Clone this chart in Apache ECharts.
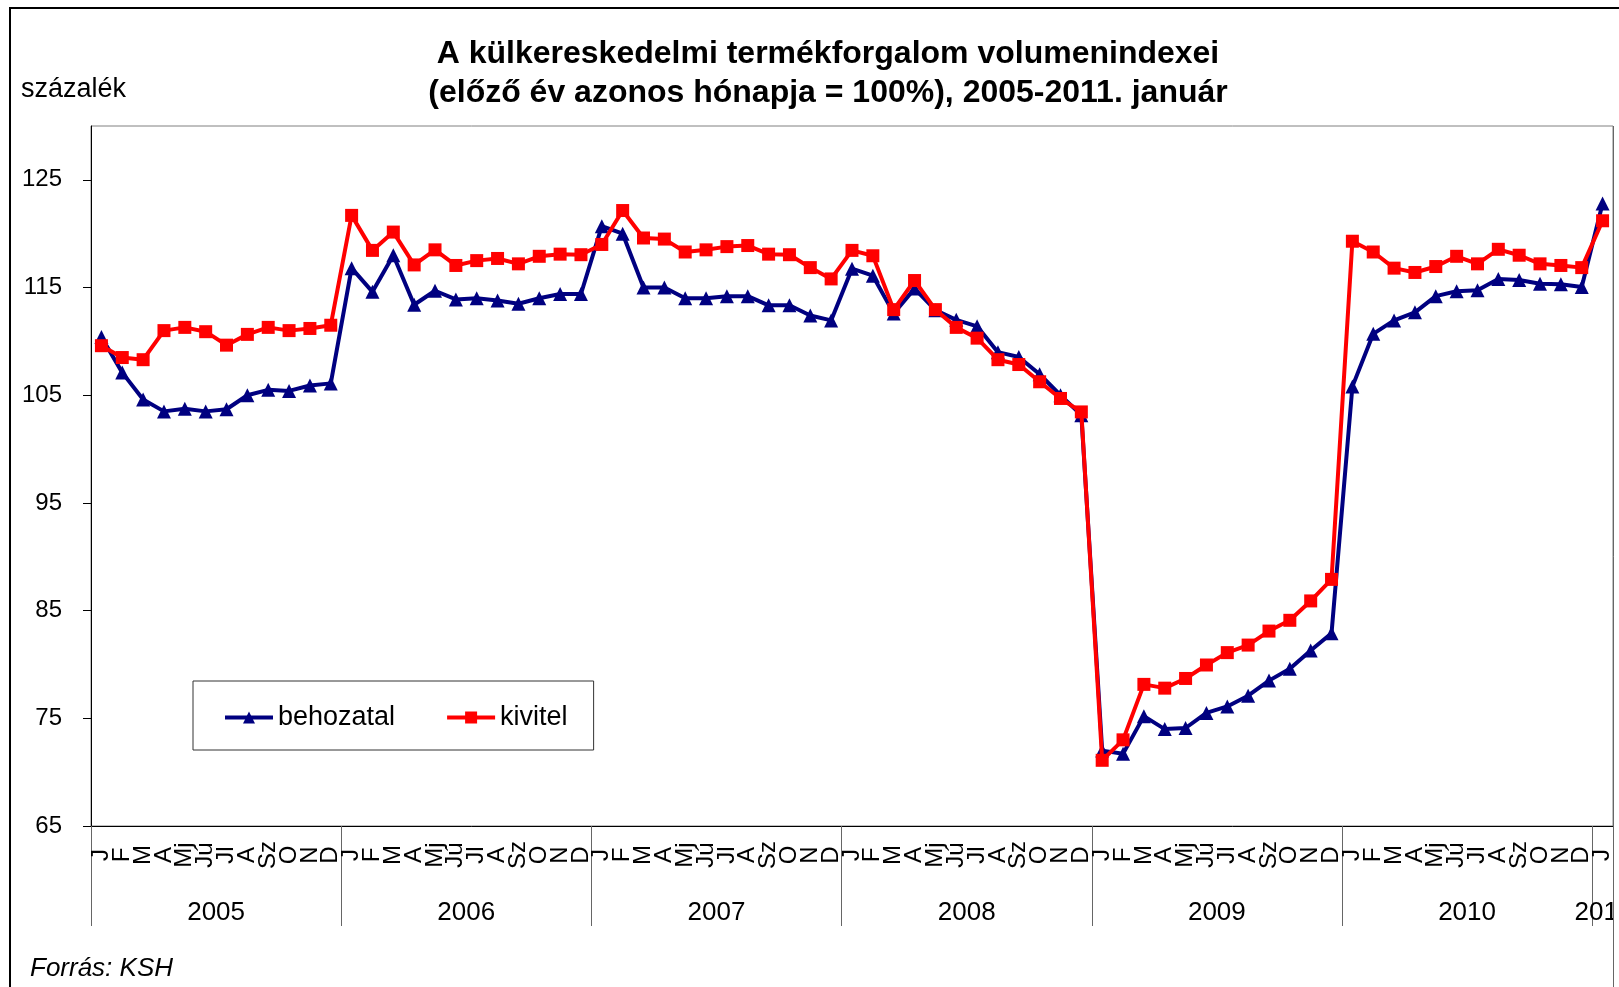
<!DOCTYPE html>
<html>
<head>
<meta charset="utf-8">
<script src="https://cdn.jsdelivr.net/npm/echarts@6/dist/echarts.min.js"></script>
<style>
html, body { margin: 0; padding: 0; background: #fff; overflow: hidden; }
#main { width: 1619px; height: 987px; }
</style>
</head>
<body>
<div id="main"></div>
<script>
// havi rövidítések és évek
var honapok = ['J', 'F', 'M', 'A', 'Mj', 'Jú', 'Jl', 'A', 'Sz', 'O', 'N', 'D'];
var evek = ['2005', '2006', '2007', '2008', '2009', '2010', '2011'];
var yTicks = [65, 75, 85, 95, 105, 115, 125];

// behozatal (import volumenindex), 2005 jan - 2011 jan
var behozatal = [
	110.4, 107.1, 104.6, 103.5, 103.75, 103.5, 103.7, 105.0, 105.5, 105.4, 105.9, 106.1,
	116.8, 114.6, 118.0, 113.4, 114.7, 113.9, 114.0, 113.8, 113.5, 114.0, 114.4, 114.4,
	120.7, 120.0, 115.0, 115.0, 114.0, 114.0, 114.2, 114.2, 113.35, 113.35, 112.4, 111.95,
	116.75, 116.1, 112.6, 114.9, 112.9, 112.0, 111.4, 109.0, 108.55, 106.95, 105.0, 103.15,
	72.0, 71.7, 75.2, 74.0, 74.1, 75.5, 76.1, 77.1, 78.5, 79.6, 81.3, 82.9,
	105.8, 110.7, 111.95, 112.7, 114.2, 114.65, 114.75, 115.8, 115.7, 115.35, 115.3, 115.05,
	122.8
];
// kivitel (export volumenindex)
var kivitel = [
	109.6, 108.5, 108.3, 111.0, 111.3, 110.9, 109.65, 110.65, 111.3, 111.0, 111.2, 111.5,
	121.7, 118.45, 120.15, 117.1, 118.5, 117.05, 117.5, 117.7, 117.2, 117.9, 118.1, 118.05,
	119.0, 122.15, 119.6, 119.5, 118.3, 118.5, 118.8, 118.9, 118.1, 118.05, 116.85, 115.8,
	118.45, 117.95, 112.95, 115.65, 112.95, 111.3, 110.3, 108.3, 107.85, 106.25, 104.7, 103.45,
	71.1, 73.0, 78.15, 77.8, 78.7, 79.95, 81.1, 81.8, 83.1, 84.1, 85.9, 87.9,
	119.3, 118.3, 116.8, 116.4, 116.95, 117.9, 117.2, 118.55, 118.0, 117.2, 117.05, 116.85,
	121.2
];

var kategoriak = [];
for (var i = 0; i < behozatal.length; i++) {
	kategoriak.push(honapok[i % 12]);
}
var evHatarok = [];
var evKozepek = [];
for (var j = 0; j < evek.length; j++) {
	evHatarok.push(j * 12);
	evKozepek.push(j < evek.length - 1 ? j * 12 + 6 : j * 12 + 0.5);
}

var betu = "'Liberation Sans', Arial, sans-serif";

var myChart = echarts.init(document.getElementById('main'), null, { width: 1619, height: 987 });
var option = {
	animation: false,
	backgroundColor: '#fff',
	title: [
		{
			text: 'A külkereskedelmi termékforgalom volumenindexei\n(előző év azonos hónapja = 100%), 2005-2011. január',
			left: 828,
			top: 35,
			textAlign: 'center',
			padding: 0,
			textStyle: {
				fontFamily: betu,
				fontSize: 32,
				fontWeight: 'bold',
				color: '#000',
				lineHeight: 39
			}
		},
		{
			text: 'százalék',
			left: 21,
			top: 76,
			padding: 0,
			textStyle: { fontFamily: betu, fontSize: 27, fontWeight: 'normal', color: '#000' }
		},
		{
			text: 'Forrás: KSH',
			left: 30,
			top: 956,
			padding: 0,
			textStyle: { fontFamily: betu, fontSize: 26, fontWeight: 'normal', fontStyle: 'italic', color: '#000' }
		}
	],
	legend: {
		left: 193,
		top: 681,
		orient: 'horizontal',
		backgroundColor: '#fff',
		borderColor: '#333',
		borderWidth: 1,
		borderRadius: 0,
		padding: [23, 26, 19, 30],
		itemWidth: 48,
		itemHeight: 15,
		itemGap: 50,
		lineStyle: { width: 4 },
		textStyle: { fontFamily: betu, fontSize: 27, color: '#000' },
		data: ['behozatal', 'kivitel']
	},
	grid: {
		left: 91,
		right: 6,
		top: 126,
		bottom: 161,
		show: true,
		borderColor: '#808080',
		borderWidth: 1,
		containLabel: false,
		outerBoundsMode: 'none'
	},
	xAxis: [
		{
			type: 'category',
			data: kategoriak,
			boundaryGap: true,
			axisLine: { lineStyle: { color: '#000', width: 1 } },
			axisTick: { interval: 0, length: 48, lineStyle: { color: '#555' } },
			axisLabel: {
				interval: 0,
				rotate: 90,
				align: 'center',
				verticalAlign: 'middle',
				margin: 29,
				fontFamily: betu,
				fontSize: 24,
				color: '#000'
			},
			splitLine: { show: false }
		},
		{
			type: 'value',
			min: 0,
			max: kategoriak.length,
			position: 'bottom',
			axisLine: { show: false },
			axisTick: { show: true, customValues: evHatarok, length: 100, lineStyle: { color: '#666' } },
			axisLabel: {
				customValues: evKozepek,
				margin: 87,
				verticalAlign: 'middle',
				fontFamily: betu,
				fontSize: 26,
				color: '#000',
				formatter: function (v) { return evek[Math.floor(v / 12)]; }
			},
			splitLine: { show: false }
		}
	],
	yAxis: {
		type: 'value',
		min: 65,
		max: 130,
		interval: 10,
		axisLine: { show: true, lineStyle: { color: '#000', width: 1 } },
		axisTick: { show: true, customValues: yTicks, length: 8, lineStyle: { color: '#000' } },
		axisLabel: {
			customValues: yTicks,
			margin: 29,
			fontFamily: betu,
			fontSize: 24,
			color: '#000'
		},
		splitLine: { show: false }
	},
	series: [
		{
			name: 'behozatal',
			type: 'line',
			data: behozatal,
			symbol: 'triangle',
			symbolSize: 14,
			color: '#000080',
			lineStyle: { color: '#000080', width: 4 },
			itemStyle: { color: '#000080' },
			z: 2
		},
		{
			name: 'kivitel',
			type: 'line',
			data: kivitel,
			symbol: 'rect',
			symbolSize: 13,
			color: '#ff0000',
			lineStyle: { color: '#ff0000', width: 4 },
			itemStyle: { color: '#ff0000' },
			z: 3
		}
	],
	graphic: [
		{
			type: 'rect',
			shape: { x: 10, y: 8, width: 1700, height: 1100 },
			style: { fill: null, stroke: '#000', lineWidth: 2 },
			silent: true,
			z: 100
		},
		{
			type: 'rect',
			shape: { x: 1614, y: 827, width: 10, height: 160 },
			style: { fill: '#fff' },
			silent: true,
			z: 99
		},
		{
			type: 'line',
			shape: { x1: 1613.5, y1: 126, x2: 1613.5, y2: 987 },
			style: { stroke: '#666', lineWidth: 1 },
			silent: true,
			z: 100
		}
	]
};
myChart.setOption(option, true);
</script>
</body>
</html>
